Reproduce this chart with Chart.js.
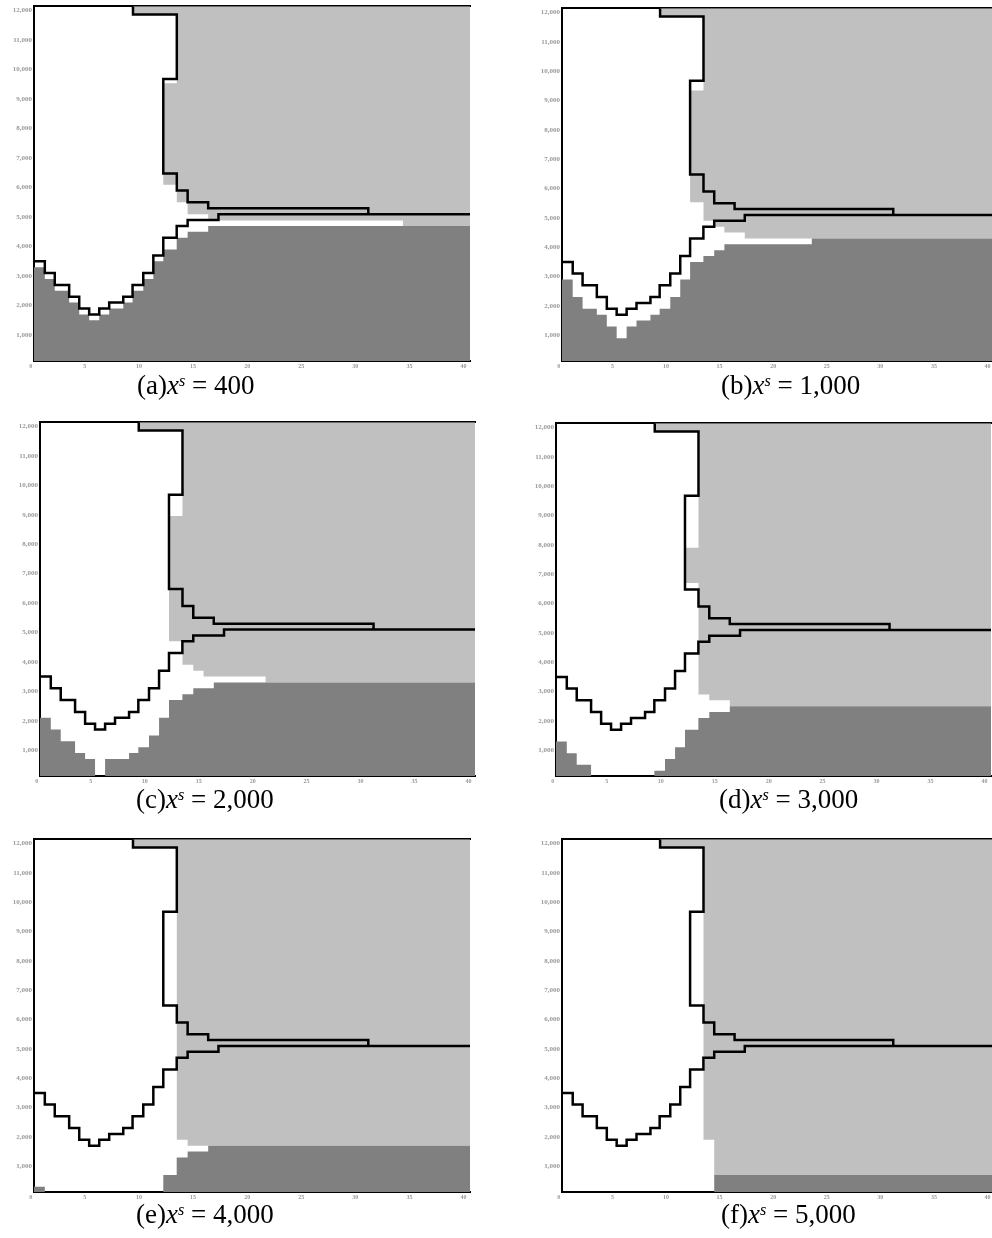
<!DOCTYPE html>
<html>
<head>
<meta charset="utf-8">
<script src="https://cdn.jsdelivr.net/npm/chart.js@4.4.1/dist/chart.umd.min.js"></script>
<style>
    html, body { margin: 0; padding: 0; background: #fff; width: 992px; height: 1238px; overflow: hidden; }
    .panel { position: absolute; }
    .cap {
        position: absolute; white-space: nowrap; color: #000;
        font-family: "Liberation Serif", "Times New Roman", serif; font-size: 27px; line-height: 27px;
    }
    .cap sup { font-size: 0.6em; position: relative; top: -0.5em; vertical-align: baseline; line-height: 0; }
</style>
</head>
<body>
<script>
// 1. 共同座標
const X_MIN = 0.3, X_MAX = 40.6, Y_MIN = 120, Y_MAX = 12150;
const xTicks = [0, 5, 10, 15, 20, 25, 30, 35, 40];
const yTicks = [1000, 2000, 3000, 4000, 5000, 6000, 7000, 8000, 9000, 10000, 11000, 12000];

// 2. 黑色邊界線（六張圖相同）
const lowerX = [0.3, 1.3, 2.22, 3.55, 4.48, 5.4, 6.33, 7.25, 8.55, 9.41, 10.4, 11.33, 12.25, 13.49, 14.5, 17.35];
const lowerY = [3500, 3100, 2700, 2300, 1900, 1700, 1900, 2100, 2300, 2700, 3100, 3700, 4300, 4700, 4900, 5100];
const upperY = [12150, 11870, 9680, 6480, 5900, 5500, 5300, 5100];
const upperX = [9.45, 13.5, 12.25, 13.5, 14.5, 16.4, 31.2];

// 3. 各圖標題
const panelTags = ['(a)', '(b)', '(c)', '(d)', '(e)', '(f)'];
const xsValues = ['400', '1,000', '2,000', '3,000', '4,000', '5,000'];

// 4. 深灰區（下方）
const darkXa = [0.3, 1.3, 2.22, 3.55, 4.48, 5.4, 6.33, 7.25, 8.55, 9.41, 10.4, 11.33, 12.25, 13.49, 14.5, 16.4];
const darkYa = [3300, 2900, 2500, 2100, 1700, 1500, 1700, 1900, 2100, 2500, 2900, 3500, 3900, 4300, 4500, 4700];
const darkXb = [0.3, 1.3, 2.22, 3.55, 4.48, 5.4, 6.33, 7.25, 8.55, 9.41, 10.4, 11.33, 12.25, 13.49, 14.5, 15.45, 23.6];
const darkYb = [2900, 2300, 1900, 1700, 1300, 900, 1300, 1500, 1700, 1900, 2300, 2900, 3500, 3700, 3900, 4100, 4300];
const darkXc = [0.3, 1.3, 2.22, 3.55, 4.48, 5.4, 6.33, 8.55, 9.41, 10.4, 11.33, 12.25, 13.49, 14.5, 16.4];
const darkYc = [2100, 1700, 1300, 900, 700, 0, 700, 900, 1100, 1500, 2100, 2700, 2900, 3100, 3300];
const darkXd = [0.3, 1.3, 2.22, 3.55, 9.41, 10.4, 11.33, 12.25, 13.49, 14.5, 16.4];
const darkYd = [1300, 900, 500, 0, 300, 700, 1100, 1700, 2100, 2300, 2500];
const darkXe = [0.3, 1.3, 12.25, 13.49, 14.5, 16.4];
const darkYe = [300, 0, 700, 1300, 1500, 1700];
const darkXf = [0.3, 14.5];
const darkYf = [0, 700];

// 5. 淺灰區（右上）：左緣 edge，下緣 floor
const edgeYa = [12150, 11870, 9540, 6100, 5500, 5100, 4880];
const edgeXa = [9.45, 13.5, 12.25, 13.5, 14.5, 16.4];
const floorXa = [16.4, 34.4];
const floorYa = [4880, 4700];
const edgeYb = [12150, 11870, 9340, 5530, 4900];
const edgeXb = [9.45, 13.5, 12.25, 13.5];
const floorXb = [13.5, 14.5, 15.45, 17.35];
const floorYb = [4900, 4700, 4500, 4300];
const edgeYc = [12150, 11870, 8960, 4700, 3900];
const edgeXc = [9.45, 13.5, 12.25, 13.5];
const floorXc = [13.5, 14.5, 15.45, 21.2];
const floorYc = [3900, 3700, 3500, 3300];
const edgeYd = [12150, 11870, 7900, 6700, 2900];
const edgeXd = [9.45, 13.5, 12.25, 13.5];
const floorXd = [13.5, 14.5, 16.4];
const floorYd = [2900, 2700, 2500];
const edgeYe = [12150, 11870, 1900];
const edgeXe = [9.45, 13.5];
const floorXe = [13.5, 14.5];
const floorYe = [1900, 1700];
const edgeYf = [12150, 11870, 1900, 700];
const edgeXf = [9.45, 13.5, 14.5];
const floorXf = [14.5];
const floorYf = [700];

// 6. 版面位置（畫布左上角、大小、標題位置）
const layoutBoxes = [
    { left: 0,   top: 0,   w: 478, h: 373, capLeft: 137, capTop: 372 },
    { left: 528, top: 2,   w: 474, h: 371, capLeft: 721, capTop: 372 },
    { left: 6,   top: 416, w: 477, h: 372, capLeft: 136, capTop: 786 },
    { left: 522, top: 417, w: 477, h: 371, capLeft: 719, capTop: 786 },
    { left: 0,   top: 833, w: 478, h: 371, capLeft: 136, capTop: 1201 },
    { left: 528, top: 833, w: 474, h: 371, capLeft: 721, capTop: 1201 }
];

const panelData = [
    [darkXa, darkYa, edgeYa, edgeXa, floorXa, floorYa],
    [darkXb, darkYb, edgeYb, edgeXb, floorXb, floorYb],
    [darkXc, darkYc, edgeYc, edgeXc, floorXc, floorYc],
    [darkXd, darkYd, edgeYd, edgeXd, floorXd, floorYd],
    [darkXe, darkYe, edgeYe, edgeXe, floorXe, floorYe],
    [darkXf, darkYf, edgeYf, edgeXf, floorXf, floorYf]
];

// 階梯：x 為分界，y 為各段高度
function stepPoints(xs, ys, xEnd) {
    const pts = [];
    for (let i = 0; i < xs.length; i++) {
        const x1 = i + 1 < xs.length ? xs[i + 1] : xEnd;
        pts.push({ x: xs[i], y: ys[i] }, { x: x1, y: ys[i] });
    }
    return pts;
}

// 上方黑線：x 隨 y 分段
function upperPoints() {
    const pts = [];
    for (let i = 0; i < upperX.length; i++) {
        pts.push({ x: upperX[i], y: upperY[i] }, { x: upperX[i], y: upperY[i + 1] });
    }
    return pts;
}

// 淺灰多邊形
function lightShape(edgeY, edgeX, floorX, floorY) {
    const pts = [{ x: X_MAX, y: edgeY[0] }];
    edgeX.forEach((x, i) => pts.push({ x: x, y: edgeY[i] }, { x: x, y: edgeY[i + 1] }));
    floorY.forEach((y, j) => {
        const x1 = j + 1 < floorX.length ? floorX[j + 1] : X_MAX;
        pts.push({ x: floorX[j], y: y }, { x: x1, y: y });
    });
    return pts;
}

const tickFont = { family: 'Liberation Serif', size: 7, weight: 'bold' };

panelData.forEach(function (d, k) {
    const box = layoutBoxes[k];
    const div = document.createElement('div');
    div.className = 'panel';
    div.style.left = box.left + 'px';
    div.style.top = box.top + 'px';
    const canvas = document.createElement('canvas');
    canvas.width = box.w;
    canvas.height = box.h;
    div.appendChild(canvas);
    document.body.appendChild(div);

    const cap = document.createElement('div');
    cap.className = 'cap';
    cap.style.left = box.capLeft + 'px';
    cap.style.top = box.capTop + 'px';
    cap.innerHTML = panelTags[k] + '<i>x</i><sup><i>s</i></sup> = ' + xsValues[k];
    document.body.appendChild(cap);

    new Chart(canvas.getContext('2d'), {
        type: 'line',
        data: {
            datasets: [
                { data: upperPoints(), borderColor: '#000', borderWidth: 2.5, fill: false, pointRadius: 0 },
                { data: stepPoints(lowerX, lowerY, X_MAX), borderColor: '#000', borderWidth: 2.5, fill: false, pointRadius: 0 },
                { data: stepPoints(d[0], d[1], X_MAX), borderColor: 'rgba(0,0,0,0)', borderWidth: 0,
                  backgroundColor: '#808080', fill: 'start', pointRadius: 0 },
                { data: lightShape(d[2], d[3], d[4], d[5]), borderColor: 'rgba(0,0,0,0)', borderWidth: 0,
                  backgroundColor: '#c0c0c0', fill: 'shape', pointRadius: 0 }
            ]
        },
        options: {
            responsive: false,
            animation: false,
            events: [],
            layout: { padding: { top: 6, right: 8, left: 0, bottom: 0 } },
            plugins: { legend: { display: false }, tooltip: { enabled: false } },
            scales: {
                x: {
                    type: 'linear', min: X_MIN, max: X_MAX,
                    afterBuildTicks: s => { s.ticks = xTicks.map(v => ({ value: v })); },
                    afterFit: s => { s.height = 12; },
                    grid: { display: false, drawTicks: false },
                    border: { display: true, color: '#000', width: 2 },
                    ticks: { font: { family: 'Liberation Serif', size: 6, weight: 'bold' }, color: '#999',
                             padding: 2, maxRotation: 0, autoSkip: false }
                },
                xTop: {
                    type: 'linear', position: 'top', min: X_MIN, max: X_MAX,
                    ticks: { display: false },
                    grid: { display: false, drawTicks: false },
                    border: { display: true, color: '#000', width: 2 }
                },
                y: {
                    type: 'linear', min: Y_MIN, max: Y_MAX,
                    afterBuildTicks: s => { s.ticks = yTicks.map(v => ({ value: v })); },
                    afterFit: s => { s.width = 34; },
                    grid: { display: false, drawTicks: false },
                    border: { display: true, color: '#000', width: 2 },
                    ticks: { font: tickFont, color: '#999', padding: 2, autoSkip: false,
                             callback: v => v.toLocaleString('en-US') }
                }
            }
        }
    });
});
</script>
</body>
</html>
